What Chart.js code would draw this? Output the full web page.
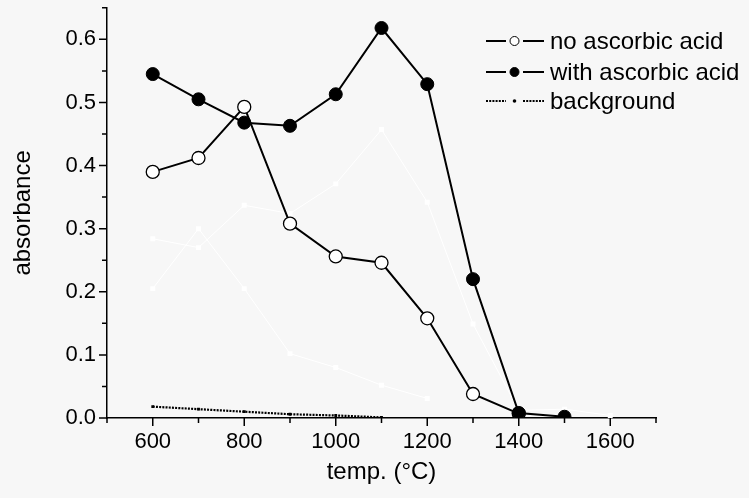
<!DOCTYPE html>
<html>
<head>
<meta charset="utf-8">
<title>absorbance vs temperature</title>
<script src="https://cdn.jsdelivr.net/npm/chart.js@4.4.1/dist/chart.umd.min.js"></script>
<style>
  html, body { margin: 0; padding: 0; background: #f7f7f7; }
  #wrap { width: 749px; height: 498px; }
</style>
</head>
<body>
<div id="wrap"><canvas id="mycanvas" width="749" height="498"></canvas></div>
<script>
// annealing temperature (°C)
var temps = [600, 700, 800, 900, 1000, 1100, 1200, 1300, 1400, 1500, 1600];

var noAcid     = [0.390, 0.412, 0.493, 0.308, 0.256, 0.246, 0.158, 0.038, 0.007];
var withAcid   = [0.545, 0.505, 0.468, 0.463, 0.513, 0.618, 0.529, 0.220, 0.008, 0.002];
var background = [0.018, 0.014, 0.010, 0.006, 0.004, 0.001];

// faint white runs left in the plot
var runA = [0.284, 0.270, 0.337, 0.324, 0.371, 0.457, 0.342, 0.149, 0.012, 0.014, 0.004];
var runB = [0.205, 0.300, 0.205, 0.102, 0.080, 0.052, 0.031];

var xTickLabels = [600, 800, 1000, 1200, 1400, 1600];

function pairs(vals) {
  var out = [];
  for (var i in vals) {
    out.push({ x: temps[i], y: vals[i] });
  }
  return out;
}

Chart.defaults.font.family = '"Liberation Sans", Arial, sans-serif';
Chart.defaults.font.size = 22;
Chart.defaults.color = '#000';

// outward tick marks, long at labelled values, short in between
var tickMarks = {
  id: 'tickMarks',
  afterDraw: function(chart) {
    var ctx = chart.ctx;
    var xs = chart.scales.x, ys = chart.scales.y;
    ctx.save();
    ctx.strokeStyle = '#000';
    ctx.lineWidth = 1.5;
    ctx.beginPath();
    xs.ticks.forEach(function(t) {
      var px = xs.getPixelForValue(t.value);
      var len = xTickLabels.indexOf(t.value) >= 0 ? 8 : 5;
      ctx.moveTo(px, xs.top);
      ctx.lineTo(px, xs.top + len);
    });
    ys.ticks.forEach(function(t) {
      var py = ys.getPixelForValue(t.value);
      var len = Math.round(t.value * 100) % 10 === 0 ? 8 : 5;
      ctx.moveTo(ys.right, py);
      ctx.lineTo(ys.right - len, py);
    });
    ctx.stroke();
    ctx.restore();
  }
};

// legend: line – marker – line, then the label
var sampleLegend = {
  id: 'sampleLegend',
  afterDraw: function(chart) {
    var ctx = chart.ctx;
    var rows = [
      { ds: 1, y: 41 },
      { ds: 0, y: 72 },
      { ds: 2, y: 101 }
    ];
    ctx.save();
    rows.forEach(function(r) {
      var d = chart.data.datasets[r.ds];
      ctx.strokeStyle = '#000';
      ctx.lineWidth = d.borderWidth;
      ctx.setLineDash(d.borderDash || []);
      ctx.beginPath();
      ctx.moveTo(486, r.y); ctx.lineTo(506, r.y);
      ctx.moveTo(523, r.y); ctx.lineTo(544, r.y);
      ctx.stroke();
      ctx.setLineDash([]);
      ctx.beginPath();
      var rad = d.pointStyle === 'rect' ? 1.8 : 4.5;
      ctx.arc(514.5, r.y, rad, 0, Math.PI * 2);
      ctx.fillStyle = d.pointBackgroundColor;
      ctx.fill();
      if (d.pointStyle !== 'rect') {
        ctx.lineWidth = 1;
        ctx.stroke();
      }
      ctx.fillStyle = '#000';
      ctx.font = '24px "Liberation Sans", Arial, sans-serif';
      ctx.textBaseline = 'middle';
      ctx.fillText(d.label, 550, r.y + 1);
    });
    ctx.restore();
  }
};

var chartdata = {
  datasets: [
    {
      label: 'with ascorbic acid',
      data: pairs(withAcid),
      borderColor: '#000',
      borderWidth: 2,
      pointStyle: 'circle',
      pointRadius: 6.5,
      pointBorderWidth: 1,
      pointBackgroundColor: '#000',
      pointBorderColor: '#000'
    },
    {
      label: 'no ascorbic acid',
      data: pairs(noAcid),
      borderColor: '#000',
      borderWidth: 2,
      pointStyle: 'circle',
      pointRadius: 6.5,
      pointBorderWidth: 1.3,
      pointBackgroundColor: '#fff',
      pointBorderColor: '#000'
    },
    {
      label: 'background',
      data: pairs(background),
      borderColor: '#000',
      borderWidth: 2.2,
      borderDash: [2, 1.2],
      pointStyle: 'rect',
      pointRadius: 2,
      pointBorderWidth: 0,
      pointBackgroundColor: '#000'
    },
    {
      label: 'run A',
      data: pairs(runA),
      borderColor: '#fff',
      borderWidth: 1,
      pointStyle: 'rect',
      pointRadius: 3.5,
      pointBorderWidth: 0,
      pointBackgroundColor: '#fff'
    },
    {
      label: 'run B',
      data: pairs(runB),
      borderColor: '#fff',
      borderWidth: 1,
      pointStyle: 'rect',
      pointRadius: 3.5,
      pointBorderWidth: 0,
      pointBackgroundColor: '#fff'
    }
  ]
};

var ctx = document.getElementById('mycanvas');

var LineGraph = new Chart(ctx, {
  type: 'line',
  data: chartdata,
  plugins: [tickMarks, sampleLegend],
  options: {
    responsive: false,
    animation: false,
    devicePixelRatio: 1,
    layout: { padding: { top: 7, right: 93, left: 0, bottom: 0 } },
    plugins: {
      legend: { display: false },
      tooltip: { enabled: false }
    },
    elements: { line: { tension: 0 } },
    scales: {
      x: {
        type: 'linear',
        min: 500,
        max: 1700,
        grid: { display: false, drawTicks: false },
        border: { display: true, color: '#000', width: 1.5 },
        ticks: {
          stepSize: 100,
          padding: 11,
          maxRotation: 0,
          autoSkip: false,
          callback: function(v) { return xTickLabels.indexOf(v) >= 0 ? String(v) : ''; }
        },
        title: {
          display: true,
          text: 'temp. (°C)',
          font: { size: 24 },
          padding: { top: 0, bottom: 11 }
        },
        afterFit: function(scale) {
          scale.height = 80;
          scale.paddingLeft = 0;
          scale.paddingRight = 0;
        }
      },
      y: {
        min: 0,
        max: 0.65,
        grid: { display: false, drawTicks: false },
        border: { display: true, color: '#000', width: 1.5 },
        ticks: {
          stepSize: 0.05,
          padding: 11,
          autoSkip: false,
          callback: function(v) {
            return Math.round(v * 100) % 10 === 0 ? v.toFixed(1) : '';
          }
        },
        title: {
          display: true,
          text: 'absorbance',
          font: { size: 24 },
          padding: { top: 9, bottom: 0 }
        },
        afterFit: function(scale) {
          scale.width = 107;
          scale.paddingTop = 0;
          scale.paddingBottom = 0;
        }
      }
    }
  }
});
</script>
</body>
</html>
